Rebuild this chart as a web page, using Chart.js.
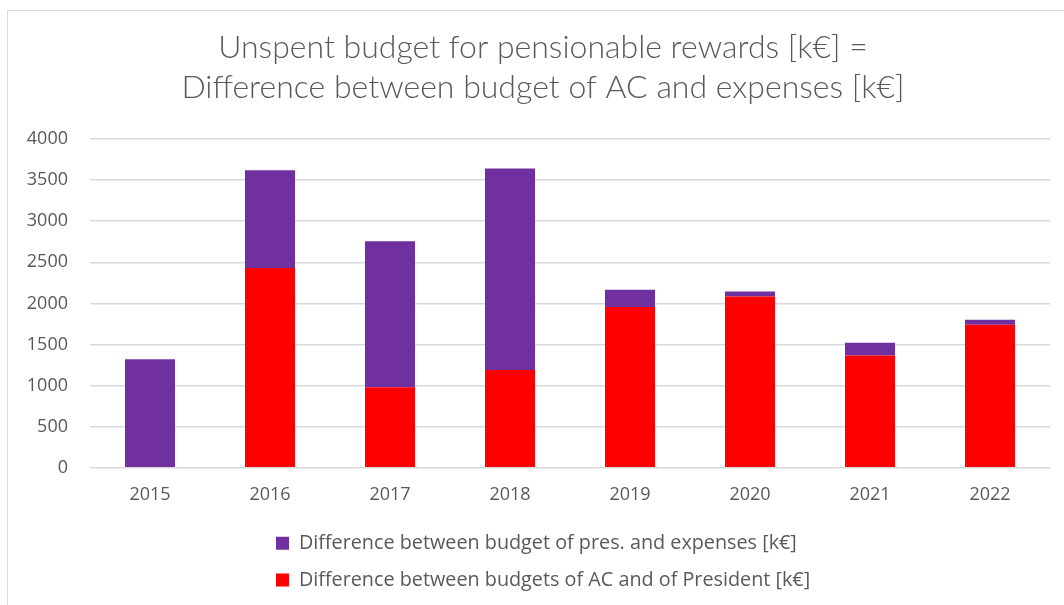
<!DOCTYPE html>
<html>
<head>
<meta charset="utf-8">
<script src="https://cdn.jsdelivr.net/npm/chart.js@4"></script>
<style>
    html, body { margin: 0; padding: 0; background: #fff; overflow: hidden; }
    .frame {
        position: absolute; left: 7px; top: 10px; width: 1100px; height: 650px;
        border: 1px solid #d9d9d9; box-sizing: border-box;
    }
    .wrap { position: absolute; left: 0; top: 0; width: 1064px; height: 605px; }
</style>
</head>
<body>
<div class="frame"></div>
<div class="wrap"><canvas id="grafico"></canvas></div>
<script>
// data
const years = ['2015', '2016', '2017', '2018', '2019', '2020', '2021', '2022'];
const diffAcPresident = [0, 2430, 980, 1190, 1955, 2085, 1365, 1740];
const diffPresExpenses = [1320, 1190, 1775, 2450, 210, 60, 155, 60];
const yTicks = [0, 500, 1000, 1500, 2000, 2500, 3000, 3500, 4000];

const titleLines = [
    'Unspent budget for pensionable rewards [k€] =',
    'Difference between budget of AC and expenses [k€]'
];
const labelPres = 'Difference between budget of pres. and expenses [k€]';
const labelAc = 'Difference between budgets of AC and of President [k€]';

const grey = '#595959';

// nudge title + legend sideways; both legend rows start at the same x, like the original
const boxShift = {
    id: 'boxShift',
    afterLayout(chart) {
        const lg = chart.legend;
        const w = lg.right - lg.left;
        lg.left = 259;
        lg.right = 259 + w;
        const t = chart.titleBlock;
        t.left += 18;
        t.right += 18;
    }
};

document.addEventListener('DOMContentLoaded', () => {
    const ctx = document.getElementById('grafico').getContext('2d');

    new Chart(ctx, {
        type: 'bar',
        data: {
            labels: years,
            datasets: [
                {
                    label: labelAc,
                    data: diffAcPresident,
                    backgroundColor: '#FF0000',
                    borderWidth: 0
                },
                {
                    label: labelPres,
                    data: diffPresExpenses,
                    backgroundColor: '#7030A0',
                    borderWidth: 0
                }
            ]
        },
        plugins: [boxShift],
        options: {
            responsive: true,
            maintainAspectRatio: false,
            animation: false,
            layout: {
                padding: { left: 0, right: 14, top: 0, bottom: 5 }
            },
            datasets: {
                bar: { categoryPercentage: 1.0, barPercentage: 0.417 }
            },
            plugins: {
                title: {
                    display: true,
                    text: titleLines,
                    color: grey,
                    font: { family: 'Lato', size: 32, weight: '300', lineHeight: 1.25 },
                    padding: { top: 28, bottom: 31 }
                },
                legend: {
                    position: 'bottom',
                    align: 'start',
                    reverse: true,
                    fullSize: true,
                    labels: {
                        color: grey,
                        boxWidth: 13,
                        boxHeight: 13,
                        padding: 17,
                        font: { family: 'Open Sans', size: 19.8 }
                    }
                },
                tooltip: { enabled: false }
            },
            scales: {
                x: {
                    stacked: true,
                    grid: { display: false },
                    border: { display: false },
                    afterFit: scale => { scale.height += 3; },
                    ticks: {
                        color: grey,
                        padding: 8,
                        font: { family: 'Open Sans', size: 18 }
                    }
                },
                y: {
                    stacked: true,
                    min: 0,
                    max: 4000,
                    afterBuildTicks: scale => {
                        scale.ticks = yTicks.map(v => ({ value: v }));
                    },
                    afterFit: scale => { scale.width = 90; },
                    grid: { color: '#d9d9d9', lineWidth: 1.5, drawTicks: false },
                    border: { display: false },
                    ticks: {
                        color: grey,
                        padding: 22,
                        font: { family: 'Open Sans', size: 18 },
                        callback: v => String(v)
                    }
                }
            }
        }
    });
});
</script>
</body>
</html>
